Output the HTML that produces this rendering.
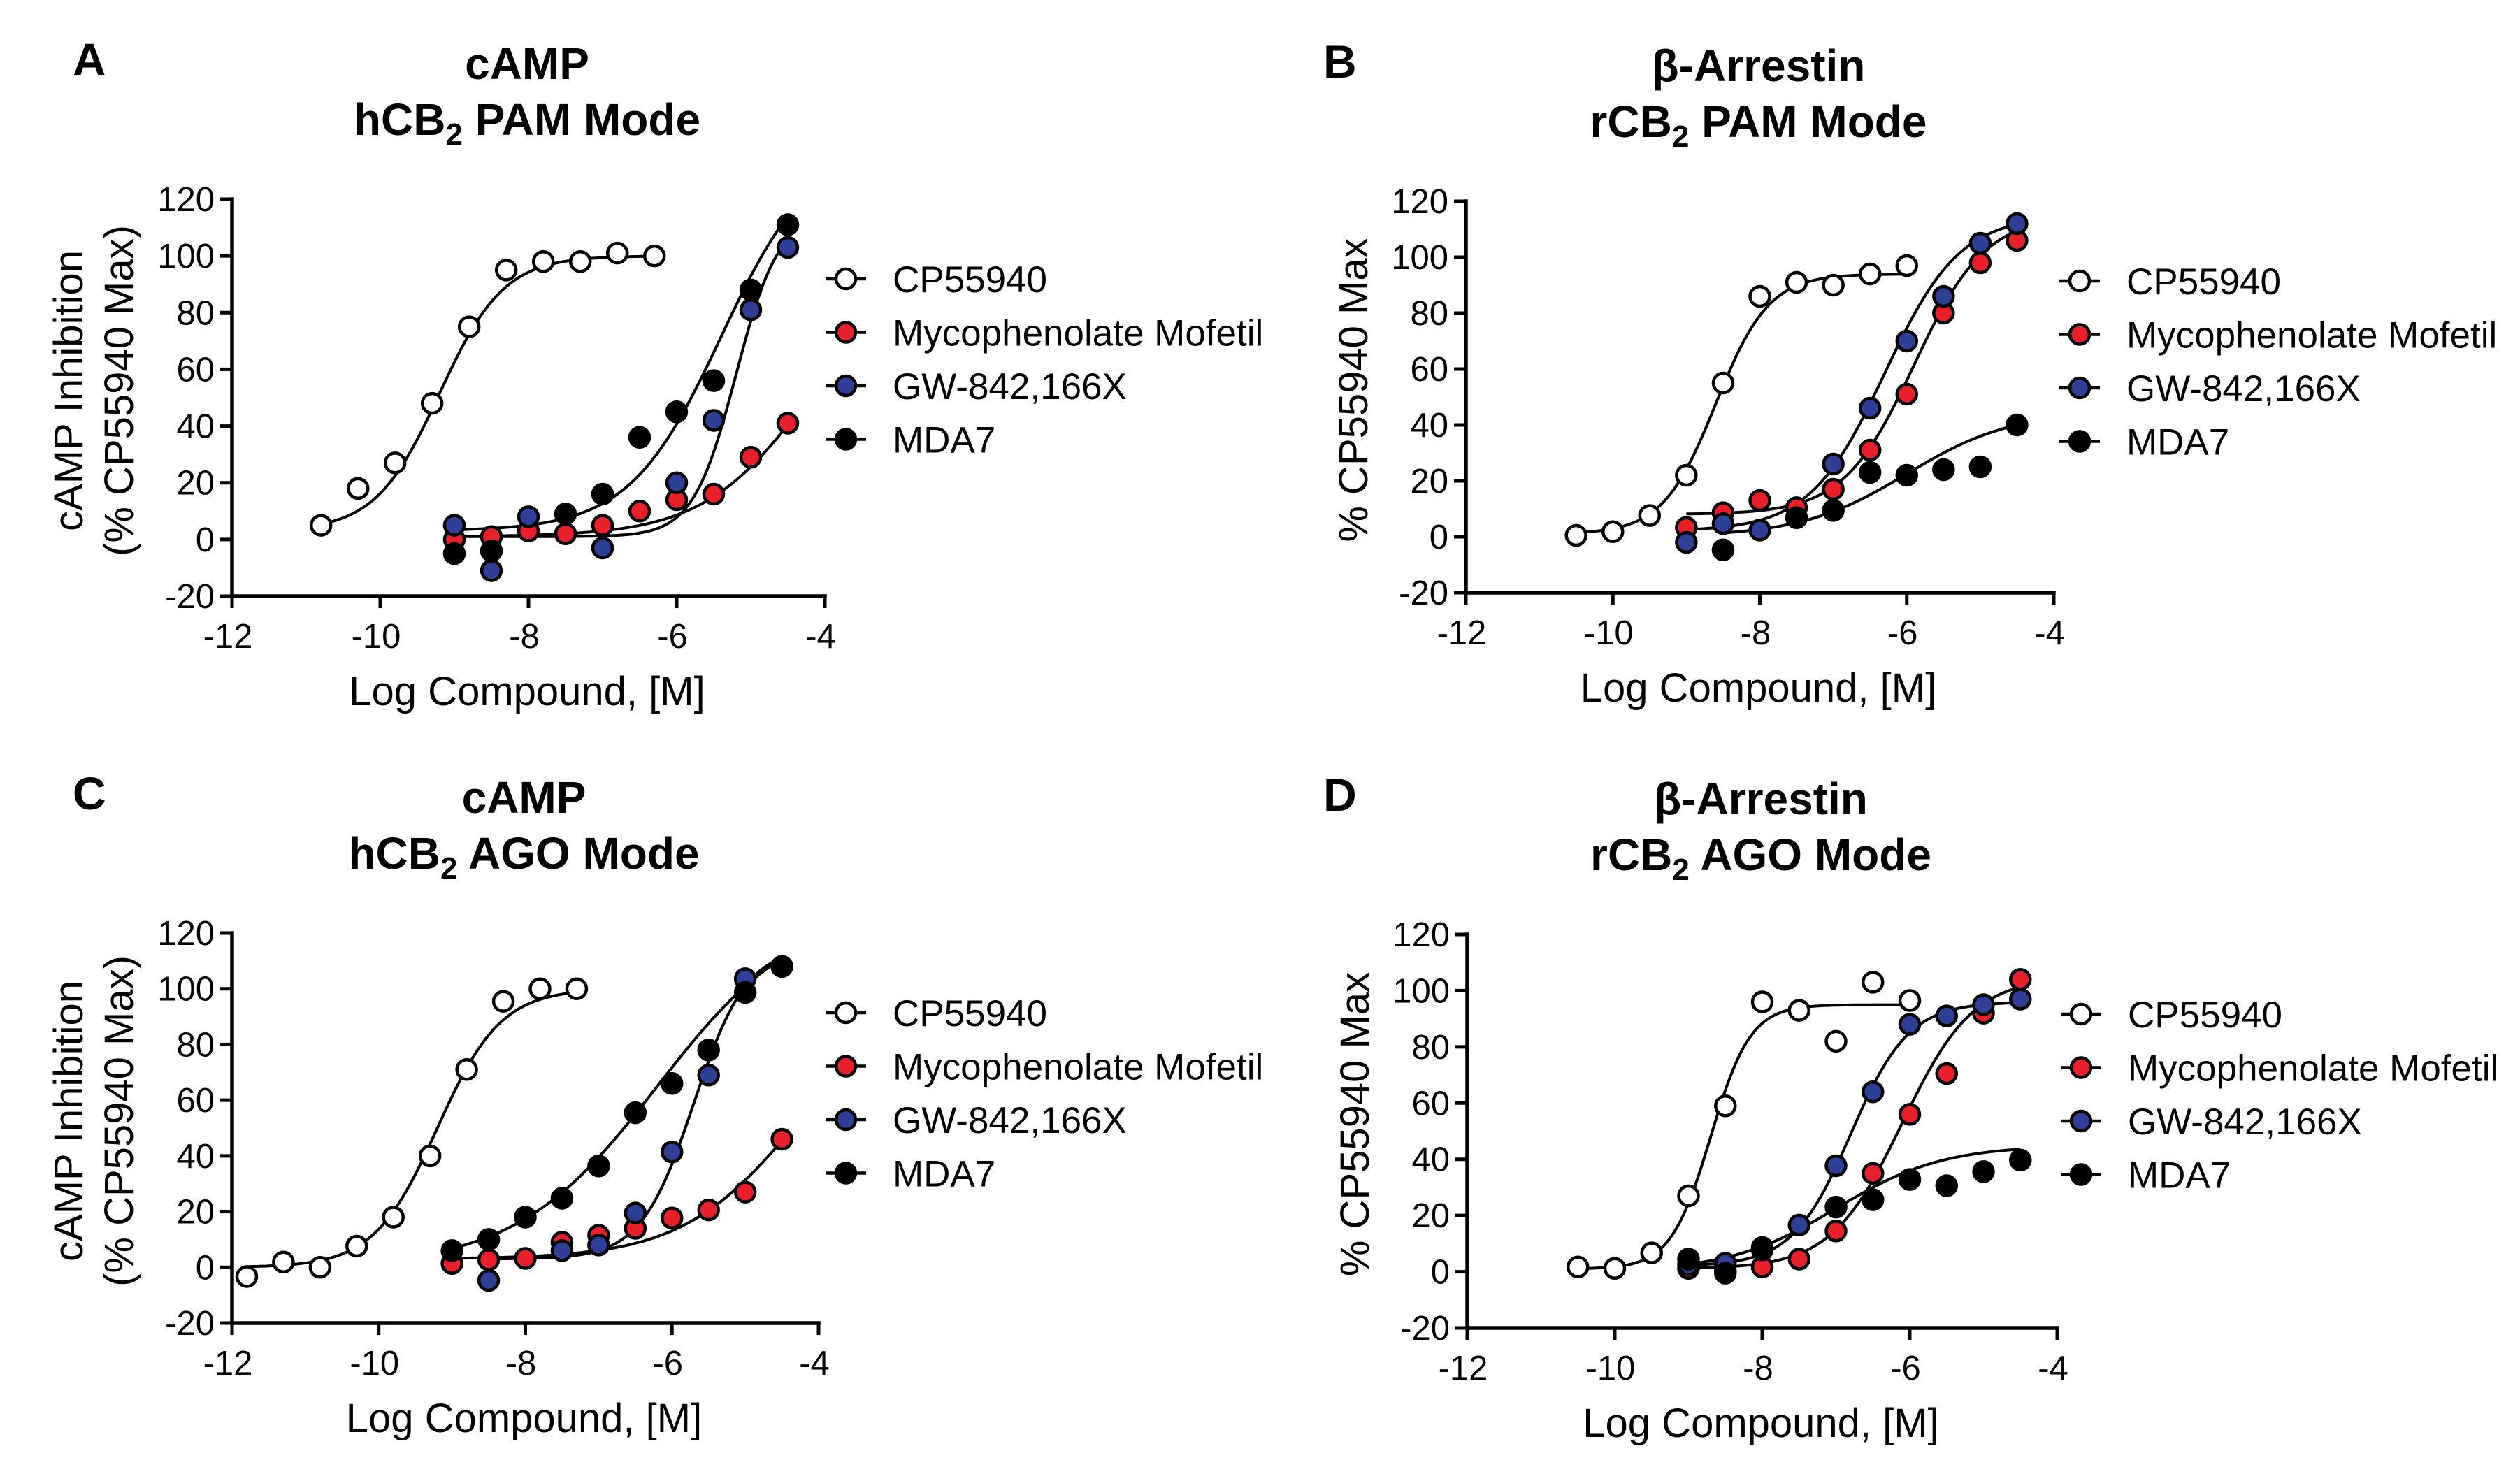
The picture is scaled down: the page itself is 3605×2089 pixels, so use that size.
<!DOCTYPE html>
<html><head><meta charset="utf-8"><style>
html,body{margin:0;padding:0;background:#fff;}
svg{display:block;font-family:"Liberation Sans",Arial,sans-serif;}
</style></head><body>
<svg id="fig" width="3605" height="2089" viewBox="0 0 3605 2089" xmlns="http://www.w3.org/2000/svg"></svg>
<script>
// ---------- data ----------
const xTicks = [-12,-10,-8,-6,-4];
const yTicks = [-20,0,20,40,60,80,100,120];
const seriesNames = ["CP55940","Mycophenolate Mofetil","GW-842,166X","MDA7"];
const seriesFill = ["#ffffff","#e8202a","#2e3f97","#000000"];
const xDrug = [-9,-8.5,-8,-7.5,-7,-6.5,-6,-5.5,-5,-4.5];

// Panel A
const A_cpX = [-10.8,-10.3,-9.8,-9.3,-8.8,-8.3,-7.8,-7.3,-6.8,-6.3];
const A_cpY = [5,18,27,48,75,95,98,98,101,100];
const A_myco = [0,1,3,2,5,10,14,16,29,41];
const A_gw = [5,-11,8,null,-3,null,20,42,81,103];
const A_mda = [-5,-4,null,9,16,36,45,56,88,111];
const A_fitCp = [3,100,-9.2,1.0];
const A_fitMyco = [1,100,-4.2,0.6];
const A_fitGw = [1,115,-5.2,1.5];
const A_fitMda = [3,140,-5.4,0.7];

// Panel B
const B_cpX = [-10.5,-10,-9.5,-9,-8.5,-8,-7.5,-7,-6.5,-6];
const B_cpY = [0.5,1.8,7.6,22,55,86,91,90,94,97];
const B_myco = [3.3,8.6,13,10.4,17,31,51,80,98,106];
const B_gw = [-2,4.7,2.4,null,26,46,70,86,105,112];
const B_mda = [null,-4.7,null,6.8,9.4,23,22,24,25,40];
const B_fitCp = [1,94,-8.6,1.2];
const B_fitMyco = [8,115,-5.9,0.9];
const B_fitGw = [2,115,-6.3,0.85];
const B_fitMda = [0,45,-6,0.6];

// Panel C
const C_cpX = [-11.8,-11.3,-10.8,-10.3,-9.8,-9.3,-8.8,-8.3,-7.8,-7.3];
const C_cpY = [-3.3,1.9,0,7.6,18,40,71,95.5,100,100];
const C_myco = [1.4,2.7,3.2,9,11.5,14,17.7,20.6,27,46];
const C_gw = [null,-4.7,null,6,8,19.5,41.4,69,103.6,108];
const C_mda = [6,10,18,24.8,36.4,55.5,66,78,98.7,108];
const C_fitCp = [0,100,-9.2,1.0];
const C_fitMyco = [3,100,-4.3,0.55];
const C_fitGw = [3,115,-5.7,1.2];
const C_fitMda = [0,130,-6.2,0.45];

// Panel D
const D_cpX = [-10.5,-10,-9.5,-9,-8.5,-8,-7.5,-7,-6.5,-6];
const D_cpY = [1.7,1.2,6.7,27,59,96,93,82,103,96.5];
const D_myco = [1.2,0.3,1.7,4.5,14.5,35,56,70.5,92,104];
const D_gw = [2.5,3,7.8,16.6,37.7,64,88,91,95,97];
const D_mda = [4.5,-0.5,8.6,null,23,25.6,32.8,30.6,35.6,39.7];
const D_fitCp = [1,95,-8.7,1.6];
const D_fitMyco = [1,105,-6.1,0.9];
const D_fitGw = [2,96,-6.8,1.1];
const D_fitMda = [0,45,-7.0,0.6];

// ---------- rendering ----------
const NS = "http://www.w3.org/2000/svg";
const svg = document.getElementById("fig");
function mk(tag, attrs, parent){
  const e = document.createElementNS(NS, tag);
  for (const k in attrs) e.setAttribute(k, attrs[k]);
  (parent||svg).appendChild(e);
  return e;
}
function fourPL(p, x){ return p[0] + (p[1]-p[0])/(1+Math.pow(10,(p[2]-x)*p[3])); }

const panels = [
  {id:"a", letter:"A", t1:"cAMP", t2a:"hCB", t2b:" PAM Mode", ylab:["cAMP Inhibition","(% CP55940 Max)"],
   L:332,R:1180,T:285,B:853, cpX:A_cpX, cpY:A_cpY, drugs:[A_myco,A_gw,A_mda], fits:[A_fitCp,A_fitMyco,A_fitGw,A_fitMda]},
  {id:"b", letter:"B", t1:"β-Arrestin", t2a:"rCB", t2b:" PAM Mode", ylab:["% CP55940 Max"],
   L:2097,R:2938,T:288,B:848, cpX:B_cpX, cpY:B_cpY, drugs:[B_myco,B_gw,B_mda], fits:[B_fitCp,B_fitMyco,B_fitGw,B_fitMda]},
  {id:"c", letter:"C", t1:"cAMP", t2a:"hCB", t2b:" AGO Mode", ylab:["cAMP Inhibition","(% CP55940 Max)"],
   L:332,R:1171,T:1335,B:1893, cpX:C_cpX, cpY:C_cpY, drugs:[C_myco,C_gw,C_mda], fits:[C_fitCp,C_fitMyco,C_fitGw,C_fitMda]},
  {id:"d", letter:"D", t1:"β-Arrestin", t2a:"rCB", t2b:" AGO Mode", ylab:["% CP55940 Max"],
   L:2099,R:2943,T:1337,B:1900, cpX:D_cpX, cpY:D_cpY, drugs:[D_myco,D_gw,D_mda], fits:[D_fitCp,D_fitMyco,D_fitGw,D_fitMda]}
];

panels.forEach(P => {
  const g = mk("g", {});
  
  
  const xs = v => P.L + (v - (-12)) / 8 * (P.R - P.L);
  const ys = v => P.B - (v - (-20)) / 140 * (P.B - P.T);
  const cx = (P.L + P.R) / 2 - 2;
  const top = P.T - 285;

  const letter = mk("text", {x: P.id==="a"||P.id==="c" ? 104 : 1893, y: top + 108, "font-size": 66, "font-weight": "bold"}, g);
  letter.textContent = P.letter;
  
  

  const t1 = mk("text", {x: cx, y: top + 113, "font-size": 64, "font-weight": "bold", "text-anchor": "middle"}, g);
  t1.textContent = P.t1;
  
  
  const t2 = mk("text", {x: cx, y: top + 193, "font-size": 64, "font-weight": "bold", "text-anchor": "middle"}, g);
  
  
  const s1 = mk("tspan", {}, t2); s1.textContent = P.t2a;
  const s2 = mk("tspan", {"font-size": 44, dy: 14}, t2); s2.textContent = "2";
  const s3 = mk("tspan", {dy: -14}, t2); s3.textContent = P.t2b;

  // axes
  const ax = mk("path", {d: `M${P.L},${P.T} V${P.B} H${P.R}`, fill: "none", stroke: "#000", "stroke-width": 5.5, "stroke-linecap": "square"}, g);
  
  
  yTicks.forEach(v => {
    const y = ys(v);
    const tk = mk("line", {x1: P.L - 17, x2: P.L, y1: y, y2: y, stroke: "#000", "stroke-width": 5}, g);
    
    
    const tl = mk("text", {x: P.L - 25, y: y + 17, "font-size": 49, "text-anchor": "end"}, g);
    tl.textContent = v;
    
    
  });
  xTicks.forEach(v => {
    const x = xs(v);
    const tk = mk("line", {x1: x, x2: x, y1: P.B, y2: P.B + 17, stroke: "#000", "stroke-width": 5}, g);
    
    
    const tl = mk("text", {x: x - 6, y: P.B + 74, "font-size": 49, "text-anchor": "middle"}, g);
    tl.textContent = v;
    
    
  });
  const xt = mk("text", {x: cx, y: P.B + 156, "font-size": 58, "text-anchor": "middle"}, g);
  xt.textContent = "Log Compound, [M]";
  
  
  const ymid = (P.T + P.B) / 2 - 10;
  if (P.ylab.length === 2) {
    [[P.L - 214, P.ylab[0]], [P.L - 142, P.ylab[1]]].forEach(([bx, txt]) => {
      const yt = mk("text", {x: bx, y: ymid, "font-size": 58, "text-anchor": "middle", transform: `rotate(-90 ${bx} ${ymid})`}, g);
      yt.textContent = txt;
      
      
    });
  } else {
    const bx = P.L - 141;
    const yt = mk("text", {x: bx, y: ymid, "font-size": 58, "text-anchor": "middle", transform: `rotate(-90 ${bx} ${ymid})`}, g);
    yt.textContent = P.ylab[0];
    
    
  }

  // series
  const allX = [P.cpX, xDrug, xDrug, xDrug];
  const allY = [P.cpY, P.drugs[0], P.drugs[1], P.drugs[2]];
  const keys = ["cp55940","mycophenolate","gw842166x","mda7"];
  for (let s = 0; s < 4; s++) {
    const xv = allX[s].filter((x, i) => allY[s][i] !== null);
    const x0 = Math.min(...xv), x1 = Math.max(...xv);
    let d = "";
    for (let k = 0; k <= 120; k++) {
      const x = x0 + (x1 - x0) * k / 120;
      d += (k ? "L" : "M") + xs(x).toFixed(1) + "," + ys(fourPL(P.fits[s], x)).toFixed(1);
    }
    const c = mk("path", {d: d, fill: "none", stroke: "#000", "stroke-width": 4}, g);
    
    
  }
  for (let s = 0; s < 4; s++) {
    allX[s].forEach((x, i) => {
      const v = allY[s][i];
      if (v === null) return;
      const m = mk("circle", {cx: xs(x), cy: ys(v), r: 14, fill: seriesFill[s], stroke: "#000", "stroke-width": 4.5}, g);
      
      
    });
  }
  // legend
  for (let s = 0; s < 4; s++) {
    const ly = P.T + 114 + s * 76.5;
    const lg = mk("g", {}, g);
    
    
    mk("line", {x1: P.L + 849, x2: P.L + 907, y1: ly, y2: ly, stroke: "#000", "stroke-width": 4.5}, lg);
    mk("circle", {cx: P.L + 878, cy: ly, r: 14, fill: seriesFill[s], stroke: "#000", "stroke-width": 4.5}, lg);
    const lt = mk("text", {x: P.L + 945, y: ly + 19, "font-size": 53}, lg);
    lt.textContent = seriesNames[s];
  }
});
</script>
</body></html>
